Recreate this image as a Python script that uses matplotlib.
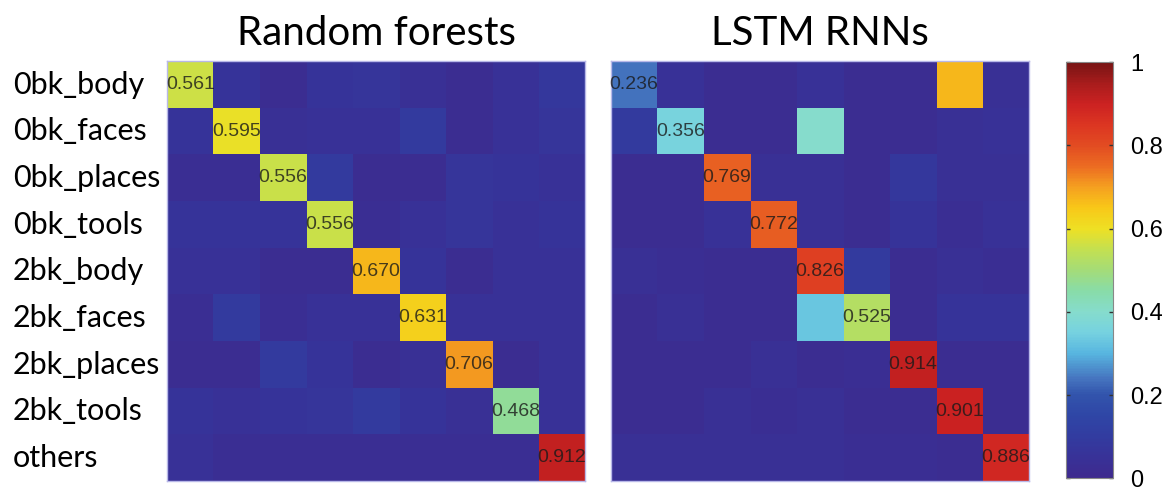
import numpy as np
import matplotlib
matplotlib.use("Agg")
import matplotlib.pyplot as plt
from matplotlib.colors import LinearSegmentedColormap
from matplotlib.transforms import blended_transform_factory

# class names (rows and columns of both confusion matrices)
classes = ["0bk_body", "0bk_faces", "0bk_places", "0bk_tools",
           "2bk_body", "2bk_faces", "2bk_places", "2bk_tools", "others"]

titles = ["Random forests", "LSTM RNNs"]

# confusion matrix, random forests (off-diagonal estimated from colour)
rf = np.array([
    [0.561, 0.06, 0.02, 0.06, 0.07, 0.04, 0.02, 0.05, 0.08],
    [0.06, 0.595, 0.04, 0.05, 0.05, 0.09, 0.02, 0.05, 0.07],
    [0.03, 0.03, 0.556, 0.09, 0.02, 0.02, 0.07, 0.06, 0.05],
    [0.06, 0.06, 0.06, 0.556, 0.03, 0.05, 0.07, 0.05, 0.06],
    [0.05, 0.05, 0.02, 0.02, 0.670, 0.06, 0.02, 0.05, 0.05],
    [0.03, 0.09, 0.03, 0.05, 0.05, 0.631, 0.05, 0.05, 0.05],
    [0.02, 0.02, 0.09, 0.06, 0.02, 0.04, 0.706, 0.02, 0.05],
    [0.06, 0.05, 0.06, 0.07, 0.09, 0.06, 0.04, 0.468, 0.05],
    [0.05, 0.03, 0.03, 0.03, 0.03, 0.03, 0.03, 0.03, 0.912],
])

# confusion matrix, LSTM RNNs
lstm = np.array([
    [0.236, 0.05, 0.02, 0.02, 0.05, 0.02, 0.02, 0.67, 0.04],
    [0.09, 0.356, 0.02, 0.02, 0.40, 0.02, 0.02, 0.04, 0.05],
    [0.02, 0.02, 0.769, 0.04, 0.04, 0.02, 0.08, 0.04, 0.04],
    [0.02, 0.02, 0.05, 0.772, 0.04, 0.02, 0.06, 0.03, 0.05],
    [0.04, 0.03, 0.02, 0.02, 0.826, 0.09, 0.02, 0.04, 0.03],
    [0.02, 0.04, 0.02, 0.02, 0.33, 0.525, 0.02, 0.06, 0.06],
    [0.02, 0.02, 0.02, 0.04, 0.02, 0.03, 0.914, 0.02, 0.02],
    [0.02, 0.02, 0.04, 0.03, 0.04, 0.02, 0.02, 0.901, 0.02],
    [0.04, 0.04, 0.04, 0.04, 0.04, 0.03, 0.03, 0.02, 0.886],
])

cbar_ticks = [0, 0.2, 0.4, 0.6, 0.8, 1]
cbar_labels = ["0", "0.2", "0.4", "0.6", "0.8", "1"]

# washed-out jet, sampled off the colour bar
stops = [
    (0.00, "#3e2a8e"), (0.05, "#383298"), (0.10, "#323ca0"), (0.15, "#2f46a6"),
    (0.20, "#3254ac"), (0.24, "#4676c0"), (0.30, "#58b6e0"), (0.35, "#76d2e0"),
    (0.40, "#86dccc"), (0.45, "#88dca8"), (0.50, "#a4dc78"), (0.55, "#c4e050"),
    (0.60, "#eee024"), (0.65, "#f8c818"), (0.70, "#f5a020"), (0.75, "#ec6c22"),
    (0.80, "#e24c22"), (0.85, "#dc3622"), (0.90, "#cc2222"), (0.95, "#a81c1c"),
    (1.00, "#781414"),
]
cmap = LinearSegmentedColormap.from_list("soft_jet", stops)

fig = plt.figure(figsize=(11.68, 4.94), dpi=100)
ax_left = fig.add_axes([0.143, 0.026, 0.358, 0.850])
ax_right = fig.add_axes([0.523, 0.026, 0.358, 0.850])
cax = fig.add_axes([0.913, 0.032, 0.040, 0.842])

n = len(classes)
for ax, mat, title in zip([ax_left, ax_right], [rf, lstm], titles):
    im = ax.imshow(mat, cmap=cmap, vmin=0, vmax=1, aspect="auto",
                   interpolation="nearest")
    for i in range(n):
        ax.text(i, i, f"{mat[i, i]:.3f}", ha="center", va="center",
                fontsize=14, family="Liberation Sans", color="#1a1a1a", alpha=0.8)
    ax.set_xticks([])
    ax.set_yticks([])
    for sp in ax.spines.values():
        sp.set_color("#b8b8e8")
        sp.set_linewidth(1)
    ax.set_title(title, fontsize=29, family="Lato", pad=12)

# row labels, left aligned at the figure edge
trans = blended_transform_factory(fig.transFigure, ax_left.transData)
for i, name in enumerate(classes):
    ax_left.text(0.011, i, name, transform=trans, ha="left", va="center",
                 fontsize=22, family="Lato")

cb = fig.colorbar(im, cax=cax, ticks=cbar_ticks)
cb.ax.set_yticklabels(cbar_labels, family="Liberation Sans", fontsize=17)
cb.ax.tick_params(direction="in", length=3, width=1, left=True, right=True,
                  color="#333333", pad=12)
cb.outline.set_edgecolor("#888888")
cb.outline.set_linewidth(0.8)

fig.savefig("out.png", dpi=100)
